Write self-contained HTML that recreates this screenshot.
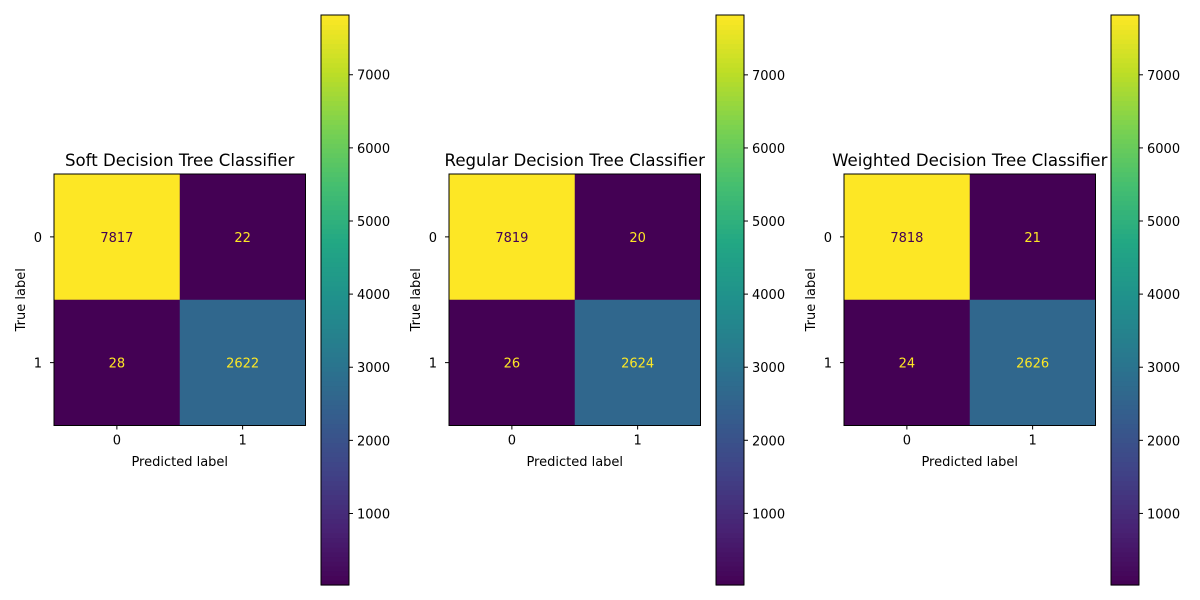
<!DOCTYPE html>
<html><head><meta charset="utf-8"><style>body{margin:0;background:#fff}svg{display:block}</style></head>
<body>
<svg id="chart" width="1200" height="600" xmlns="http://www.w3.org/2000/svg" font-family="'DejaVu Sans','Liberation Sans',sans-serif"></svg>
<script>
const titles = ["Soft Decision Tree Classifier","Regular Decision Tree Classifier","Weighted Decision Tree Classifier"];
const classLabels = ["0","1"];
const softValues = [[7817,22],[28,2622]];
const regularValues = [[7819,20],[26,2624]];
const weightedValues = [[7818,21],[24,2626]];
const colorbarTicks = [1000,2000,3000,4000,5000,6000,7000];
const allValues = [softValues, regularValues, weightedValues];

const VIR=[[68,1,84],[72,35,116],[64,67,135],[52,94,141],[41,120,142],[32,144,140],[34,167,132],[68,190,112],[121,209,81],[189,222,38],[253,231,37]];
function viridis(t){t=Math.max(0,Math.min(1,t));const p=t*(VIR.length-1),i=Math.min(Math.floor(p),VIR.length-2),f=p-i;
const c=VIR[i].map((v,k)=>Math.round(v+(VIR[i+1][k]-v)*f));return `rgb(${c[0]},${c[1]},${c[2]})`;}
const svg=document.getElementById('chart');const NS="http://www.w3.org/2000/svg";
function el(tag,attrs,parent,text){const e=document.createElementNS(NS,tag);for(const k in attrs)e.setAttribute(k,attrs[k]);if(text!==undefined)e.textContent=text;(parent||svg).appendChild(e);return e;}

const panelX=[54,449,844], mTop=174, mSize=251.5, cbOff=267, cbW=28, cbTop=15, cbBot=585;
allValues.forEach((vals,p)=>{
  const x0=panelX[p];
  const flat=vals.flat(), vmin=Math.min(...flat), vmax=Math.max(...flat);
  const g=el('g',{});
  
  
  const cell=mSize/classLabels.length;
  const xs=i=>x0+i*cell, ys=i=>mTop+i*cell;
  vals.forEach((row,r)=>row.forEach((v,c)=>{
    const t=(v-vmin)/(vmax-vmin);
    const rc=el('rect',{x:xs(c),y:ys(r),width:cell+0.5,height:cell+0.5,fill:viridis(t)},g);
    
    
    const tx=el('text',{x:xs(c)+cell/2,y:ys(r)+cell/2+5,'text-anchor':'middle','font-size':13,fill:v<(vmin+vmax)/2?'#fde725':'#440154'},g,String(v));
    
    
  }));
  el('rect',{x:x0,y:mTop,width:mSize,height:mSize,fill:'none',stroke:'#000','stroke-width':1},g);
  classLabels.forEach((l,i)=>{
    el('line',{x1:xs(i)+cell/2,x2:xs(i)+cell/2,y1:mTop+mSize,y2:mTop+mSize+4,stroke:'#000'},g);
    el('text',{x:xs(i)+cell/2,y:mTop+mSize+19,'text-anchor':'middle','font-size':13},g,l);
    el('line',{x1:x0-4,x2:x0,y1:ys(i)+cell/2,y2:ys(i)+cell/2,stroke:'#000'},g);
    el('text',{x:x0-12,y:ys(i)+cell/2+5,'text-anchor':'end','font-size':13},g,l);
  });
  const xt=el('text',{x:x0+mSize/2,y:466,'text-anchor':'middle','font-size':13},g,'Predicted label');
  
  
  const yt=el('text',{x:0,y:0,transform:`translate(${x0-29},${mTop+mSize/2}) rotate(-90)`,'text-anchor':'middle','font-size':13},g,'True label');
  
  
  const tt=el('text',{x:x0+mSize/2,y:166,'text-anchor':'middle','font-size':16.6},g,titles[p]);
  
  
  const cx=x0+cbOff;
  const cy=v=>cbBot-(v-vmin)/(vmax-vmin)*(cbBot-cbTop);
  const cb=el('g',{},g);
  
  
  const N=120;
  for(let i=0;i<N;i++){const y1=cbBot-(i+1)*(cbBot-cbTop)/N;el('rect',{x:cx,y:y1,width:cbW,height:(cbBot-cbTop)/N+0.6,fill:viridis((i+0.5)/N)},cb);}
  el('rect',{x:cx,y:cbTop,width:cbW,height:cbBot-cbTop,fill:'none',stroke:'#000'},cb);
  colorbarTicks.forEach(v=>{const y=cy(v);
    el('line',{x1:cx+cbW,x2:cx+cbW+4,y1:y,y2:y,stroke:'#000'},cb);
    el('text',{x:cx+cbW+8,y:y+5,'font-size':13},cb,String(v));});
});
</script>
</body></html>
